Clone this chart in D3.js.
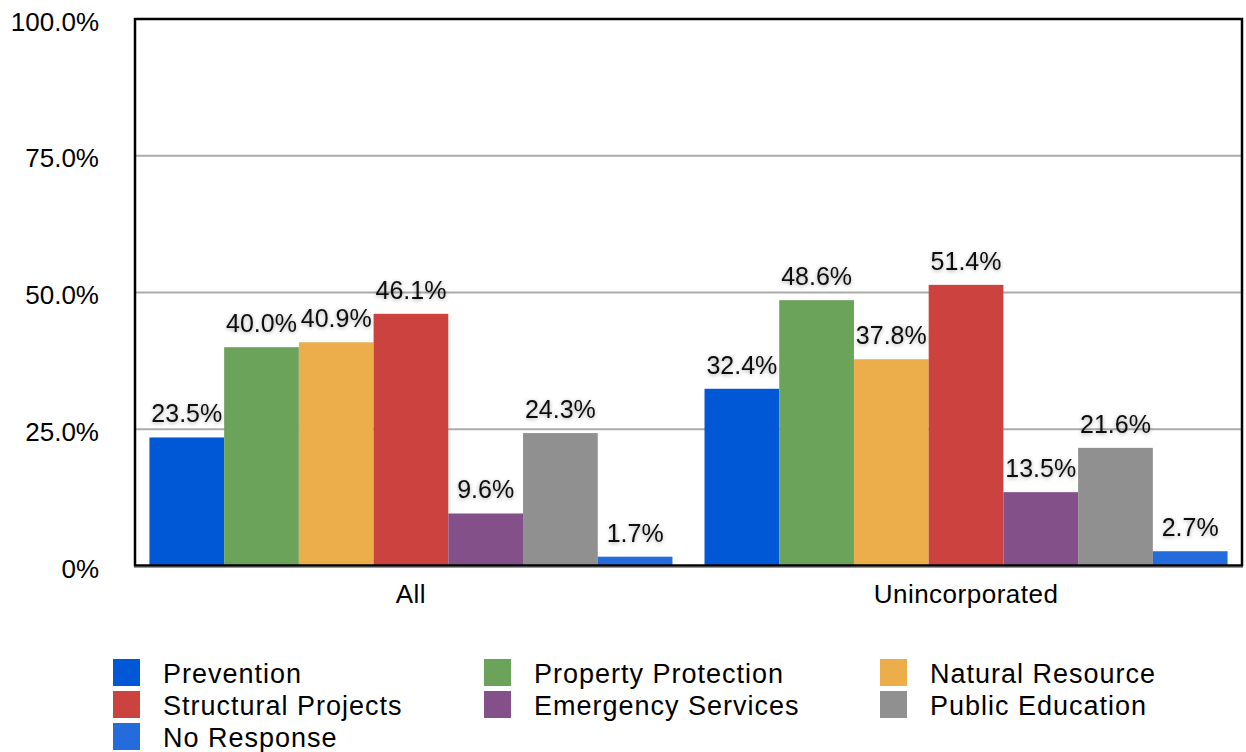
<!DOCTYPE html>
<html>
<head>
<meta charset="utf-8">
<script src="https://cdn.jsdelivr.net/npm/d3@7"></script>
<style>
  html, body { margin: 0; padding: 0; background: #fff; }
  svg { display: block; font-family: "Liberation Sans", Arial, Helvetica, sans-serif; }
</style>
</head>
<body>
<svg id="chart" width="1246" height="752"></svg>
<script>
const categories = ["All", "Unincorporated"];
const seriesNames = ["Prevention", "Property Protection", "Natural Resource", "Structural Projects", "Emergency Services", "Public Education", "No Response"];
const seriesColors = ["#0158d6", "#6ca35a", "#ecae4b", "#cb423f", "#845089", "#8f908f", "#246cdc"];
const valuesAll = [23.5, 40.0, 40.9, 46.1, 9.6, 24.3, 1.7];
const valuesUnincorporated = [32.4, 48.6, 37.8, 51.4, 13.5, 21.6, 2.7];
const tickValues = [0, 25, 50, 75, 100];
const tickLabels = ["0%", "25.0%", "50.0%", "75.0%", "100.0%"];

const valuesByCategory = { "All": valuesAll, "Unincorporated": valuesUnincorporated };

const svg = d3.select("#chart");
const plotLeft = 135, plotRight = 1242, plotTop = 19, plotBottom = 566;

const defs = svg.append("defs");
const f = defs.append("filter").attr("id", "shadow").attr("x", "-20%").attr("y", "-40%").attr("width", "140%").attr("height", "180%");
f.append("feGaussianBlur").attr("in", "SourceAlpha").attr("stdDeviation", 2).attr("result", "blur");
f.append("feOffset").attr("in", "blur").attr("dx", 0).attr("dy", 1).attr("result", "off");
f.append("feComponentTransfer").attr("in", "off").attr("result", "soft")
  .append("feFuncA").attr("type", "linear").attr("slope", 0.35);
const fm = f.append("feMerge");
fm.append("feMergeNode").attr("in", "soft");
fm.append("feMergeNode").attr("in", "SourceGraphic");

const y = d3.scaleLinear().domain([0, 100]).range([plotBottom, plotTop]);
const x0 = d3.scaleBand().domain(categories).range([plotLeft, plotRight]).paddingInner(0.0577).paddingOuter(0.026);
const x1 = d3.scaleBand().domain(seriesNames).range([0, x0.bandwidth()]).padding(0);
const color = d3.scaleOrdinal().domain(seriesNames).range(seriesColors);

// gridlines
svg.append("g").selectAll("line").data(tickValues.filter(v => v > 0 && v < 100)).join("line")
  .attr("x1", plotLeft).attr("x2", plotRight)
  .attr("y1", d => y(d)).attr("y2", d => y(d))
  .attr("stroke", "#ababab").attr("stroke-width", 2);

// y tick labels via axis
const yAxis = d3.axisLeft(y).tickValues(tickValues).tickSize(0).tickPadding(0)
  .tickFormat((d, i) => tickLabels[i]);
const ya = svg.append("g").attr("transform", `translate(${plotLeft - 36},0)`).call(yAxis);
ya.select(".domain").remove();
ya.selectAll("text").attr("font-size", 26).attr("fill", "#000")
  .attr("font-family", "'Liberation Sans', Arial, sans-serif").attr("dy", "0.35em")
  .attr("y", 2);

// bars
const rows = [];
categories.forEach(c => seriesNames.forEach((s, i) => rows.push({ cat: c, series: s, value: valuesByCategory[c][i] })));

svg.append("g").selectAll("rect").data(rows).join("rect")
  .attr("x", d => x0(d.cat) + x1(d.series))
  .attr("width", x1.bandwidth())
  .attr("y", d => y(d.value))
  .attr("height", d => y(0) - y(d.value))
  .attr("fill", d => color(d.series));

// value labels
svg.append("g").selectAll("text").data(rows).join("text")
  .attr("x", d => x0(d.cat) + x1(d.series) + x1.bandwidth() / 2)
  .attr("y", d => y(d.value) - 15)
  .attr("text-anchor", "middle")
  .attr("font-size", 25)
  .attr("fill", "#111")
  .attr("filter", "url(#shadow)")
  .text(d => d.value.toFixed(1) + "%");

// frame
svg.append("path")
  .attr("d", `M${plotLeft},${plotBottom} L${plotLeft},${plotTop} L${plotRight},${plotTop} L${plotRight},${plotBottom}`)
  .attr("fill", "none").attr("stroke", "#000").attr("stroke-width", 2.5);
svg.append("line").attr("x1", plotLeft - 1).attr("x2", plotRight + 1).attr("y1", plotBottom + 1.5).attr("y2", plotBottom + 1.5)
  .attr("stroke", "#999").attr("stroke-width", 1);
svg.append("line").attr("x1", plotLeft - 1).attr("x2", plotRight + 1).attr("y1", plotBottom - 0.5).attr("y2", plotBottom - 0.5)
  .attr("stroke", "#000").attr("stroke-width", 2.5);

// x axis labels
const xAxis = d3.axisBottom(x0).tickSize(0).tickPadding(0);
const xa = svg.append("g").attr("transform", `translate(0,${plotBottom})`).call(xAxis);
xa.select(".domain").remove();
xa.selectAll("text").attr("font-size", 26).attr("fill", "#000")
  .attr("font-family", "'Liberation Sans', Arial, sans-serif")
  .attr("letter-spacing", 0.5)
  .attr("dy", 0).attr("y", 37);

// legend
const legendCols = [113, 484, 880];
const legendRows = [659, 691, 723];
const lg = svg.append("g").selectAll("g").data(seriesNames).join("g")
  .attr("transform", (d, i) => `translate(${legendCols[i % 3]},${legendRows[Math.floor(i / 3)]})`);
lg.append("rect").attr("width", 27).attr("height", 27).attr("fill", d => color(d));
lg.append("text").attr("x", 50).attr("y", 24).attr("font-size", 27).attr("letter-spacing", 1.0)
  .attr("fill", "#000").text(d => d);
</script>
</body>
</html>
